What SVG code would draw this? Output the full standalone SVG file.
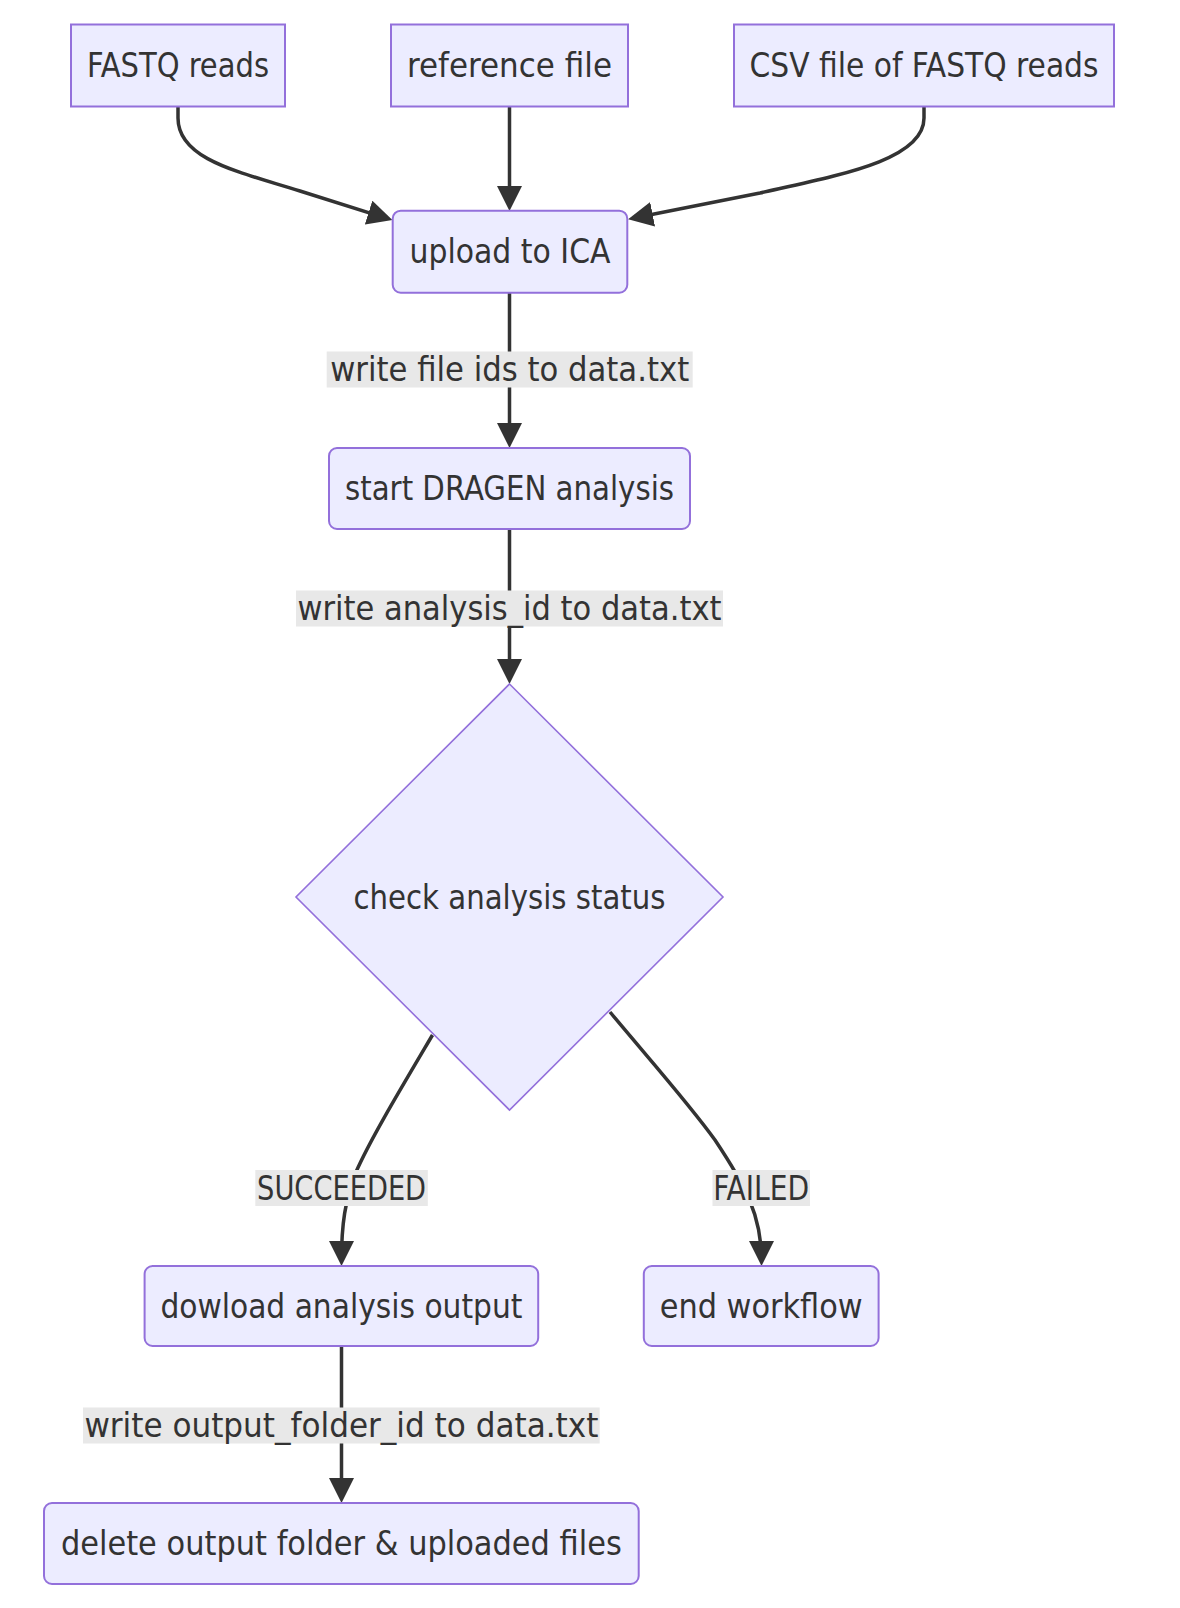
<svg xmlns="http://www.w3.org/2000/svg" width="1180" height="1608" viewBox="0 0 1180 1608">
<style>
.node rect, .node polygon { fill: #ECECFF; stroke: #9370DB; stroke-width: 2; }
.node polygon { stroke-width: 1.6; }
text { font-family: "DejaVu Sans Condensed", "DejaVu Sans", sans-serif; font-stretch: condensed; font-size: 33px; fill: #333333; text-anchor: middle; dominant-baseline: central; }
.edge { fill: none; stroke: #333333; stroke-width: 3.5; }
.lbl rect { fill: #e8e8e8; stroke: none; }
</style>
<defs>
<marker id="arrow" viewBox="0 0 10 10" refX="7.6" refY="5" markerWidth="25" markerHeight="25" markerUnits="userSpaceOnUse" orient="auto">
<path d="M0,0 L10,5 L0,10 z" fill="#333333"/>
</marker>
</defs>
<g id="connectors">
<path class="edge" d="M178,106 L178,118 C178,160 240,172 300,191 L386.7,218.3" marker-end="url(#arrow)"/>
<path class="edge" d="M509.5,106 L509.5,205" marker-end="url(#arrow)"/>
<path class="edge" d="M924,106 L924,118 C924,160 840,175 760,193 L634,218" marker-end="url(#arrow)"/>
<path class="edge" d="M509.5,293 L509.5,442" marker-end="url(#arrow)"/>
<path class="edge" d="M509.5,529 L509.5,678" marker-end="url(#arrow)"/>
<path class="edge" d="M432.5,1035 C400,1090 370,1140 356,1172 C345,1200 341.5,1225 341.5,1260" marker-end="url(#arrow)"/>
<path class="edge" d="M610,1012 C650,1060 690,1105 715,1140 C745,1185 761.5,1215 761.5,1260" marker-end="url(#arrow)"/>
<path class="edge" d="M341.5,1346 L341.5,1497" marker-end="url(#arrow)"/>
<g class="lbl" id="label-upload-dragen"><rect x="326.7" y="351.5" width="366" height="36"/><text x="509.7" y="369.5" textLength="359" lengthAdjust="spacingAndGlyphs">write file ids to data.txt</text></g>
<g class="lbl" id="label-dragen-check"><rect x="296" y="590.5" width="427" height="36"/><text x="509.5" y="608.5" textLength="424" lengthAdjust="spacingAndGlyphs">write analysis_id to data.txt</text></g>
<g class="lbl" id="label-succeeded"><rect x="255.3" y="1170" width="172.5" height="36"/><text x="341.6" y="1188" textLength="169" lengthAdjust="spacingAndGlyphs">SUCCEEDED</text></g>
<g class="lbl" id="label-failed"><rect x="712.5" y="1170" width="97.5" height="36"/><text x="761.2" y="1188" textLength="96" lengthAdjust="spacingAndGlyphs">FAILED</text></g>
<g class="lbl" id="label-download-delete"><rect x="83" y="1407.5" width="516.7" height="36"/><text x="341.4" y="1425.5" textLength="514" lengthAdjust="spacingAndGlyphs">write output_folder_id to data.txt</text></g>
</g>
<g id="fastq" class="node"><rect x="71" y="24.5" width="214" height="82"/><text x="178" y="65.5" textLength="182" lengthAdjust="spacingAndGlyphs">FASTQ reads</text></g>
<g id="reference" class="node"><rect x="391" y="24.5" width="237" height="82"/><text x="509.5" y="65.5" textLength="205" lengthAdjust="spacingAndGlyphs">reference file</text></g>
<g id="csv" class="node"><rect x="734" y="24.5" width="380" height="82"/><text x="924" y="65.5" textLength="349" lengthAdjust="spacingAndGlyphs">CSV file of FASTQ reads</text></g>
<g id="upload" class="node"><rect x="392.7" y="210.7" width="234.6" height="82" rx="8" ry="8"/><text x="510" y="251.7" textLength="201" lengthAdjust="spacingAndGlyphs">upload to ICA</text></g>
<g id="dragen" class="node"><rect x="329" y="448" width="361" height="81" rx="8" ry="8"/><text x="509.5" y="488.5" textLength="329" lengthAdjust="spacingAndGlyphs">start DRAGEN analysis</text></g>
<g id="check" class="node"><polygon points="509.5,684 723,897 509.5,1110 296,897"/><text x="509.5" y="897" textLength="312" lengthAdjust="spacingAndGlyphs">check analysis status</text></g>
<g id="download" class="node"><rect x="144.6" y="1266" width="393.6" height="80" rx="8" ry="8"/><text x="341.4" y="1306" textLength="362" lengthAdjust="spacingAndGlyphs">dowload analysis output</text></g>
<g id="end" class="node"><rect x="643.8" y="1266" width="234.8" height="80" rx="8" ry="8"/><text x="761.2" y="1306" textLength="203" lengthAdjust="spacingAndGlyphs">end workflow</text></g>
<g id="delete" class="node"><rect x="44" y="1503" width="594.7" height="81" rx="8" ry="8"/><text x="341.4" y="1543.5" textLength="561" lengthAdjust="spacingAndGlyphs">delete output folder &amp; uploaded files</text></g>
</svg>
